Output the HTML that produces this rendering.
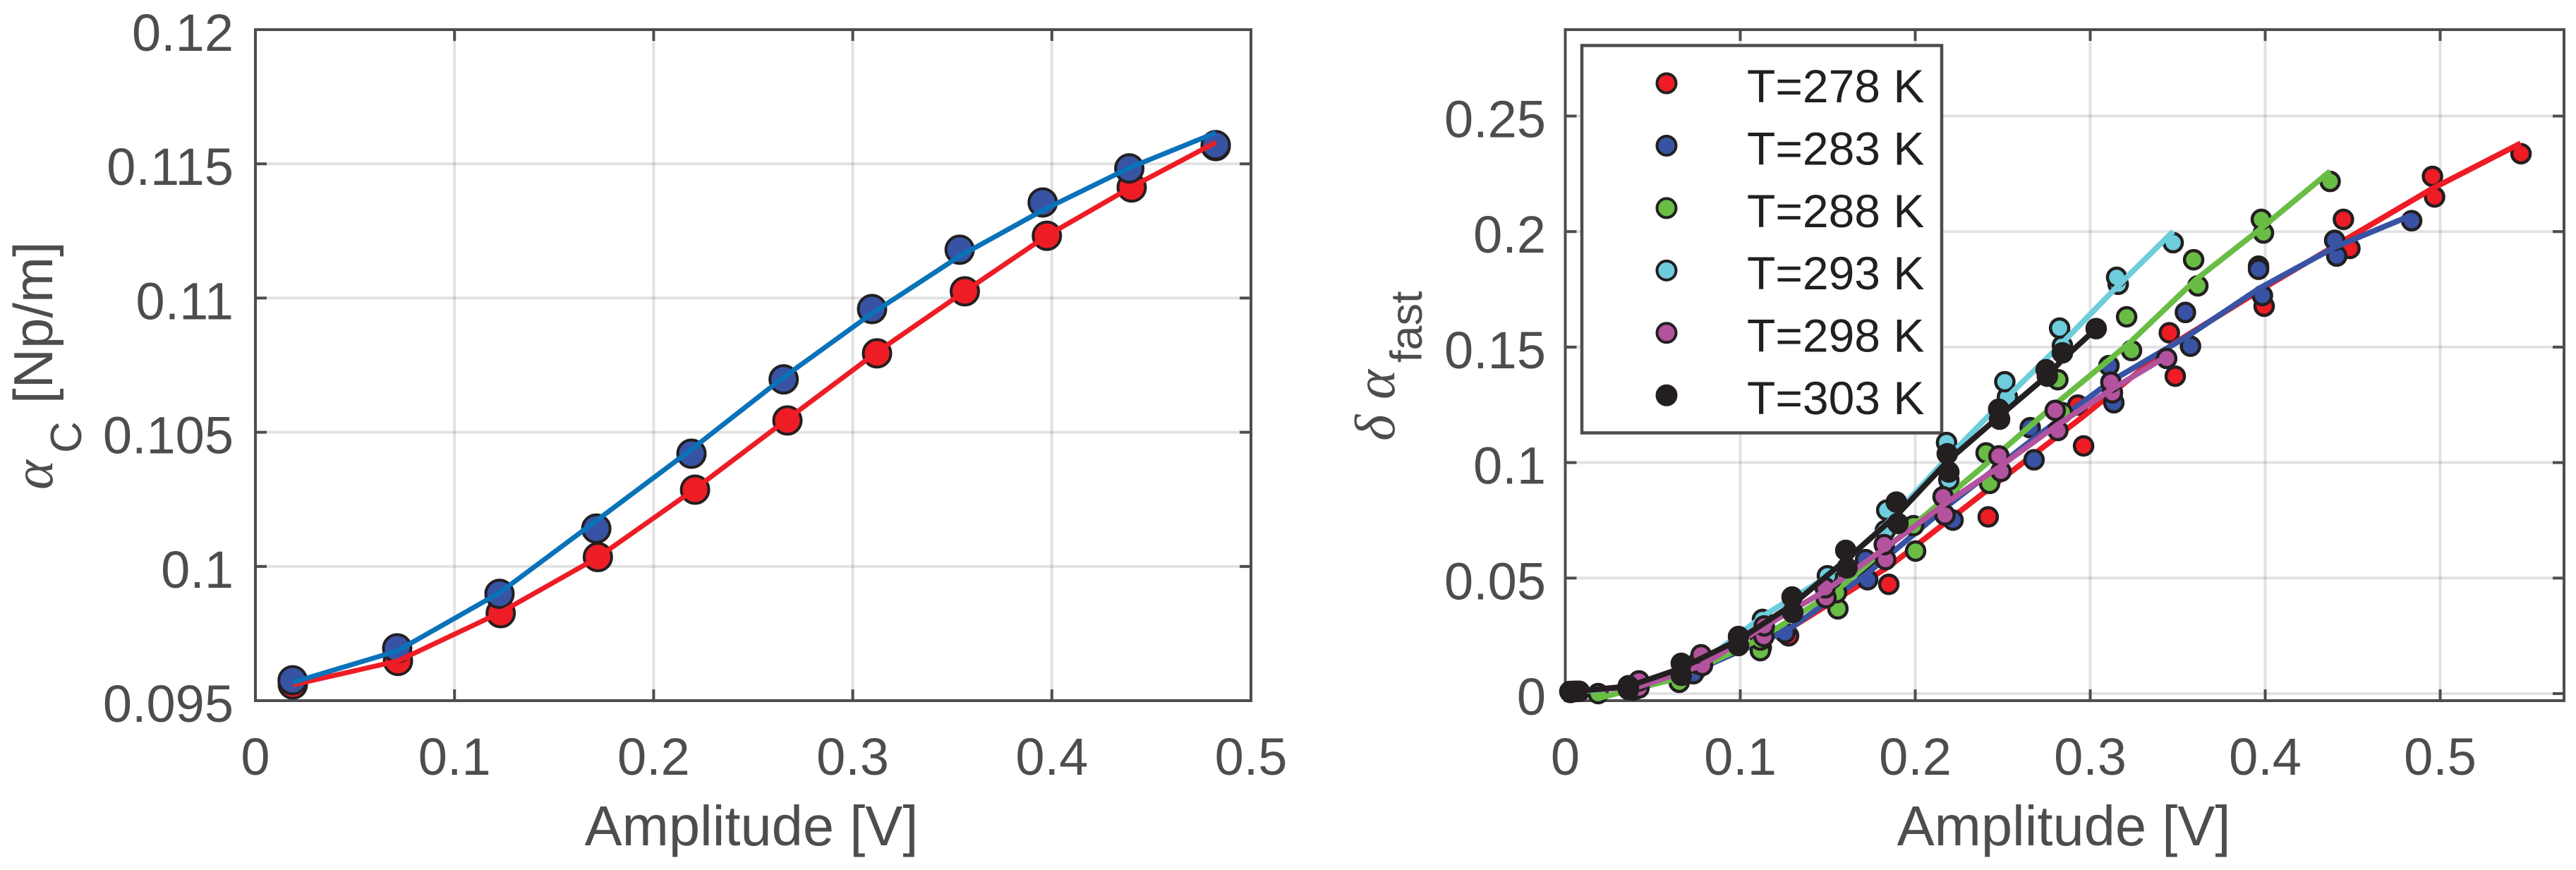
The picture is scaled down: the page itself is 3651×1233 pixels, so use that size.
<!DOCTYPE html>
<html>
<head>
<meta charset="utf-8">
<title>Attenuation vs amplitude</title>
<style>
html,body{margin:0;padding:0;background:#fff;}
svg{display:block;}
text{font-family:"Liberation Sans",Arial,sans-serif;fill:#4d4d4f;}
.sym{font-family:"Liberation Serif","DejaVu Serif",serif;font-style:italic;}
</style>
</head>
<body>
<svg id="figure" xmlns="http://www.w3.org/2000/svg" width="3651" height="1233" viewBox="0 0 3651 1233">
  <rect x="0" y="0" width="3651" height="1233" fill="#fff"/>
  <g id="left-grid"></g>
  <g id="right-grid"></g>
  <g id="left-marks"></g>
  <g id="left-frame"></g>
  <g id="right-frame"></g>
  <g id="legend">
    <rect x="2242" y="64.5" width="510" height="549" fill="#fff" stroke="#4d4d4f" stroke-width="4.5"/>
  </g>
  <g id="right-marks"></g>

  <text x="1065" y="1198" font-size="79.5" text-anchor="middle">Amplitude [V]</text>
  <text x="2925" y="1198" font-size="79.5" text-anchor="middle">Amplitude [V]</text>

  <g>
    <text class="sym" transform="translate(74,694) rotate(-90)" font-size="80">α</text>
    <text transform="translate(115,642) rotate(-90)" font-size="62">C</text>
    <text transform="translate(74,572) rotate(-90)" font-size="78">[Np/m]</text>
  </g>
  <g>
    <text class="sym" transform="translate(1976,625) rotate(-90)" font-size="80">δ</text>
    <text class="sym" transform="translate(1976,566) rotate(-90)" font-size="80">α</text>
    <text transform="translate(2015,514) rotate(-90)" font-size="63">fast</text>
  </g>
</svg>
<script>
// ---------- Left chart data ----------
const leftXTicks = [0, 0.1, 0.2, 0.3, 0.4, 0.5];
const leftXTickLabels = ['0', '0.1', '0.2', '0.3', '0.4', '0.5'];
const leftYTicks = [0.095, 0.1, 0.105, 0.11, 0.115, 0.12];
const leftYTickLabels = ['0.095', '0.1', '0.105', '0.11', '0.115', '0.12'];

const leftRedMarkerX = [0.0188, 0.0716, 0.1232, 0.1720, 0.2208, 0.2672, 0.3122, 0.3563, 0.3975, 0.4401, 0.4823];
const leftRedMarkerY = [0.0956, 0.09648, 0.09826, 0.10035, 0.10286, 0.10544, 0.10794, 0.11025, 0.11232, 0.11412, 0.11566];
const leftBlueMarkerX = [0.0187, 0.0712, 0.1226, 0.1712, 0.2190, 0.2653, 0.3097, 0.3537, 0.3954, 0.4389, 0.4823];
const leftBlueMarkerY = [0.09576, 0.09695, 0.09898, 0.10141, 0.1042, 0.10697, 0.10959, 0.1118, 0.11356, 0.11483, 0.1157];
const leftRedLineY = [0.09559, 0.09648, 0.09829, 0.10034, 0.10289, 0.10549, 0.10799, 0.11025, 0.11232, 0.11414, 0.1158];
const leftBlueLineY = [0.09568, 0.09685, 0.09902, 0.1017, 0.10436, 0.10705, 0.10943, 0.11156, 0.11327, 0.11485, 0.11616];

// ---------- Right chart data ----------
const rightXTicks = [0, 0.1, 0.2, 0.3, 0.4, 0.5];
const rightXTickLabels = ['0', '0.1', '0.2', '0.3', '0.4', '0.5'];
const rightYTicks = [0, 0.05, 0.1, 0.15, 0.2, 0.25];
const rightYTickLabels = ['0', '0.05', '0.1', '0.15', '0.2', '0.25'];

const legendLabels = ['T=278 K', 'T=283 K', 'T=288 K', 'T=293 K', 'T=298 K', 'T=303 K'];

const t278X = [0.5462, 0.4956, 0.4968, 0.4447, 0.4484, 0.3994, 0.3452, 0.3486, 0.2929, 0.2962, 0.2417, 0.1849, 0.1276, 0.112, 0.075, 0.04, 0.008];
const t278Y = [0.2337, 0.2239, 0.2150, 0.2053, 0.1927, 0.1677, 0.1562, 0.1374, 0.1249, 0.1072, 0.0765, 0.0473, 0.0250, 0.02, 0.0105, 0.0035, 0.001];
const t278LineX = [0.008, 0.04, 0.075, 0.1, 0.13, 0.185, 0.24, 0.295, 0.347, 0.4, 0.447, 0.495, 0.546];
const t278LineY = [0.001, 0.0035, 0.0105, 0.0185, 0.029, 0.055, 0.0874, 0.1194, 0.1512, 0.176, 0.197, 0.2184, 0.2382];

const t283X = [0.4837, 0.4397, 0.4409, 0.3962, 0.3962, 0.3984, 0.3544, 0.3573, 0.3107, 0.3135, 0.2657, 0.2679, 0.2192, 0.2216, 0.1716, 0.1728, 0.1256, 0.0732, 0.039, 0.003];
const t283Y = [0.2047, 0.1962, 0.1894, 0.1837, 0.1850, 0.1723, 0.1650, 0.1504, 0.1420, 0.1259, 0.1151, 0.1012, 0.0874, 0.0751, 0.0580, 0.0493, 0.0263, 0.0086, 0.0015, 0.0005];
const t283LineX = [0.003, 0.039, 0.073, 0.1, 0.126, 0.172, 0.22, 0.267, 0.312, 0.356, 0.397, 0.44, 0.4837];
const t283LineY = [0.0005, 0.003, 0.0095, 0.0185, 0.0269, 0.0516, 0.0822, 0.11, 0.1353, 0.1549, 0.1756, 0.1933, 0.2071];

const t288X = [0.4371, 0.3978, 0.3990, 0.3591, 0.3615, 0.3208, 0.3236, 0.2815, 0.2841, 0.2405, 0.2425, 0.1990, 0.2002, 0.1550, 0.1558, 0.1115, 0.1115, 0.0651, 0.0188];
const t288Y = [0.2217, 0.2053, 0.1994, 0.1878, 0.1765, 0.1631, 0.1485, 0.1359, 0.1216, 0.1042, 0.0910, 0.0727, 0.0617, 0.0437, 0.0367, 0.0232, 0.0186, 0.0049, 0];
const t288LineX = [0.0188, 0.065, 0.1115, 0.1555, 0.2, 0.2415, 0.2828, 0.322, 0.36, 0.398, 0.4371];
const t288LineY = [-0.002, 0.0068, 0.0238, 0.0449, 0.0736, 0.1, 0.127, 0.1515, 0.179, 0.2016, 0.2261];

const t293X = [0.3474, 0.3151, 0.316, 0.2825, 0.2841, 0.2512, 0.2527, 0.2179, 0.2192, 0.1837, 0.1829, 0.1498, 0.1522, 0.1127, 0.1135, 0.075, 0.04, 0.005];
const t293Y = [0.1952, 0.1802, 0.1772, 0.1582, 0.1506, 0.1350, 0.1283, 0.1087, 0.0925, 0.0794, 0.0706, 0.0510, 0.0498, 0.0321, 0.0284, 0.013, 0.004, 0.001];
const t293LineX = [0.005, 0.04, 0.075, 0.113, 0.15, 0.1837, 0.2179, 0.2512, 0.2825, 0.3151, 0.3474];
const t293LineY = [0.0006, 0.0034, 0.0116, 0.0336, 0.0507, 0.0736, 0.1017, 0.1274, 0.1506, 0.1759, 0.2001];

const t298X = [0.3437, 0.3118, 0.3127, 0.2800, 0.2815, 0.2478, 0.2490, 0.2159, 0.2170, 0.1823, 0.1831, 0.1485, 0.1490, 0.1137, 0.1135, 0.0776, 0.0784, 0.0421, 0.0421, 0.0066];
const t298Y = [0.1451, 0.1348, 0.1302, 0.1226, 0.1139, 0.1029, 0.0962, 0.0852, 0.0773, 0.0645, 0.0580, 0.0458, 0.0415, 0.0293, 0.0247, 0.0168, 0.0122, 0.0055, 0.0024, 0.001];
const t298LineX = [0.0066, 0.0421, 0.078, 0.1136, 0.1488, 0.1827, 0.2165, 0.2484, 0.2808, 0.312, 0.3437];
const t298LineY = [0.0012, 0.003, 0.0122, 0.029, 0.0446, 0.0629, 0.0819, 0.0983, 0.1161, 0.1316, 0.146];

const t303X = [0.3034, 0.2841, 0.2748, 0.2755, 0.2477, 0.2482, 0.2183, 0.2192, 0.1892, 0.1901, 0.1603, 0.1610, 0.1296, 0.1300, 0.0990, 0.0990, 0.0663, 0.0663, 0.0360, 0.0361, 0.0026, 0.0058];
const t303Y = [0.1580, 0.1475, 0.1402, 0.1374, 0.1231, 0.1188, 0.1038, 0.0959, 0.0829, 0.0737, 0.0620, 0.0544, 0.0418, 0.0351, 0.0247, 0.0208, 0.0131, 0.0079, 0.0034, 0.0018, 0.0009, 0.0009];
const t303LineX = [0.004, 0.036, 0.0663, 0.099, 0.1298, 0.1606, 0.1896, 0.2187, 0.248, 0.2751, 0.2841, 0.3034];
const t303LineY = [0.0009, 0.0031, 0.011, 0.0232, 0.0385, 0.058, 0.0773, 0.1008, 0.12, 0.1374, 0.1445, 0.158];

// ---------- Axis functions ----------
const SVG_NS = 'http://www.w3.org/2000/svg';
const AXIS_COLOR = '#4d4d4f';
const L = {left: 362, right: 1773, top: 42, bottom: 993};
const R = {left: 2218.5, right: 3634, top: 42, bottom: 993};
function xLeft(v) { return 362 + v * 2822; }
function yLeft(v) { return 993 - (v - 0.095) * 38040; }
function xRight(v) { return 2218.5 + v * 2480; }
function yRight(v) { return 983 - v * 3274; }

function make(parent, tag, attrs) {
  const el = document.createElementNS(SVG_NS, tag);
  for (const k in attrs) el.setAttribute(k, attrs[k]);
  parent.appendChild(el);
  return el;
}

function drawGrid(gridParent, box, xTicks, yTicks, xf, yf) {
  xTicks.forEach(function (t) {
    const px = xf(t);
    if (px <= box.left + 1 || px >= box.right - 1) return;
    const line = make(gridParent, 'line', {x1: px, x2: px, y1: box.top, y2: box.bottom, stroke: AXIS_COLOR, 'stroke-opacity': 0.165, 'stroke-width': 4});
    
    
  });
  yTicks.forEach(function (t) {
    const py = yf(t);
    if (py <= box.top + 1 || py >= box.bottom - 1) return;
    const line = make(gridParent, 'line', {x1: box.left, x2: box.right, y1: py, y2: py, stroke: AXIS_COLOR, 'stroke-opacity': 0.165, 'stroke-width': 4});
    
    
  });
}

function drawFrame(frameParent, box, xTicks, xLabels, yTicks, yLabels, xf, yf, yLabelRight) {
  const TICK = 16;
  const frame = make(frameParent, 'rect', {x: box.left, y: box.top, width: box.right - box.left, height: box.bottom - box.top, fill: 'none', stroke: AXIS_COLOR, 'stroke-width': 4});
  
  
  xTicks.forEach(function (t, i) {
    const px = xf(t);
    if (px > box.left + 1 && px < box.right - 1) {
      const b = make(frameParent, 'line', {x1: px, x2: px, y1: box.bottom, y2: box.bottom - TICK, stroke: AXIS_COLOR, 'stroke-width': 4});
      
      
      const c = make(frameParent, 'line', {x1: px, x2: px, y1: box.top, y2: box.top + TICK, stroke: AXIS_COLOR, 'stroke-width': 4});
      
      
    }
    const label = make(frameParent, 'text', {x: px, y: 1098, 'font-size': 74, 'text-anchor': 'middle'});
    
    
    label.textContent = xLabels[i];
  });
  yTicks.forEach(function (t, i) {
    const py = yf(t);
    if (py > box.top + 1 && py < box.bottom - 1) {
      const a = make(frameParent, 'line', {x1: box.left, x2: box.left + TICK, y1: py, y2: py, stroke: AXIS_COLOR, 'stroke-width': 4});
      
      
      const d = make(frameParent, 'line', {x1: box.right, x2: box.right - TICK, y1: py, y2: py, stroke: AXIS_COLOR, 'stroke-width': 4});
      
      
    }
    const label = make(frameParent, 'text', {x: yLabelRight, y: py + 30, 'font-size': 74, 'text-anchor': 'end'});
    
    
    label.textContent = yLabels[i];
  });
}

function drawMarkers(parent, xs, ys, xf, yf, color, r, sw, name) {
  const g = make(parent, 'g', {});
  
  
  // later array entries were plotted first in the source figure, keep them beneath
  for (let i = xs.length - 1; i >= 0; i--) {
    const dot = make(g, 'circle', {cx: xf(xs[i]), cy: yf(ys[i]), r: r, fill: color, stroke: '#231f20', 'stroke-width': sw});
    
    
  }
}

function drawLine(parent, xs, ys, xf, yf, color, width, name) {
  const pts = xs.map(function (x, i) { return xf(x).toFixed(1) + ',' + yf(ys[i]).toFixed(1); }).join(' ');
  const line = make(parent, 'polyline', {points: pts, fill: 'none', stroke: color, 'stroke-width': width, 'stroke-linejoin': 'round'});
  
  
}

// ---------- Left chart ----------
const leftGrid = document.getElementById('left-grid');
const leftMarks = document.getElementById('left-marks');
const leftFrame = document.getElementById('left-frame');
drawGrid(leftGrid, L, leftXTicks, leftYTicks, xLeft, yLeft);
drawMarkers(leftMarks, leftRedMarkerX, leftRedMarkerY, xLeft, yLeft, '#ee1c25', 19.5, 4, 'red-markers');
drawMarkers(leftMarks, leftBlueMarkerX, leftBlueMarkerY, xLeft, yLeft, '#3853a4', 19.5, 4, 'blue-markers');
drawLine(leftMarks, leftRedMarkerX, leftRedLineY, xLeft, yLeft, '#ee1c25', 7, 'red-fit-line');
drawLine(leftMarks, leftBlueMarkerX, leftBlueLineY, xLeft, yLeft, '#0a72b8', 7, 'blue-fit-line');
drawFrame(leftFrame, L, leftXTicks, leftXTickLabels, leftYTicks, leftYTickLabels, xLeft, yLeft, 331);

// ---------- Right chart ----------
const rightGrid = document.getElementById('right-grid');
const rightMarks = document.getElementById('right-marks');
const rightFrame = document.getElementById('right-frame');
drawGrid(rightGrid, R, rightXTicks, rightYTicks, xRight, yRight);
drawFrame(rightFrame, R, rightXTicks, rightXTickLabels, rightYTicks, rightYTickLabels, xRight, yRight, 2191);

const seriesColors = ['#ee1c25', '#3853a4', '#69bd45', '#6dcddd', '#b3539e', '#231f20'];
const seriesX = [t278X, t283X, t288X, t293X, t298X, t303X];
const seriesY = [t278Y, t283Y, t288Y, t293Y, t298Y, t303Y];
const seriesLineX = [t278LineX, t283LineX, t288LineX, t293LineX, t298LineX, t303LineX];
const seriesLineY = [t278LineY, t283LineY, t288LineY, t293LineY, t298LineY, t303LineY];

seriesColors.forEach(function (color, i) {
  drawMarkers(rightMarks, seriesX[i], seriesY[i], xRight, yRight, color, 13, 4.5, 'series-markers-' + (278 + i * 5));
  drawLine(rightMarks, seriesLineX[i], seriesLineY[i], xRight, yRight, color, 8, 'series-line-' + (278 + i * 5));
});

// ---------- Legend ----------
const legend = document.getElementById('legend');
legendLabels.forEach(function (txt, i) {
  const swatch = make(legend, 'circle', {cx: 2362, cy: 118 + i * 88.45, r: 13.5, fill: seriesColors[i], stroke: '#231f20', 'stroke-width': 4});
  
  
  const label = make(legend, 'text', {x: 2476, y: 145 + i * 88.4, 'font-size': 66});
  
  
  label.style.fill = '#231f20';
  label.textContent = txt;
});
</script>
</body>
</html>
